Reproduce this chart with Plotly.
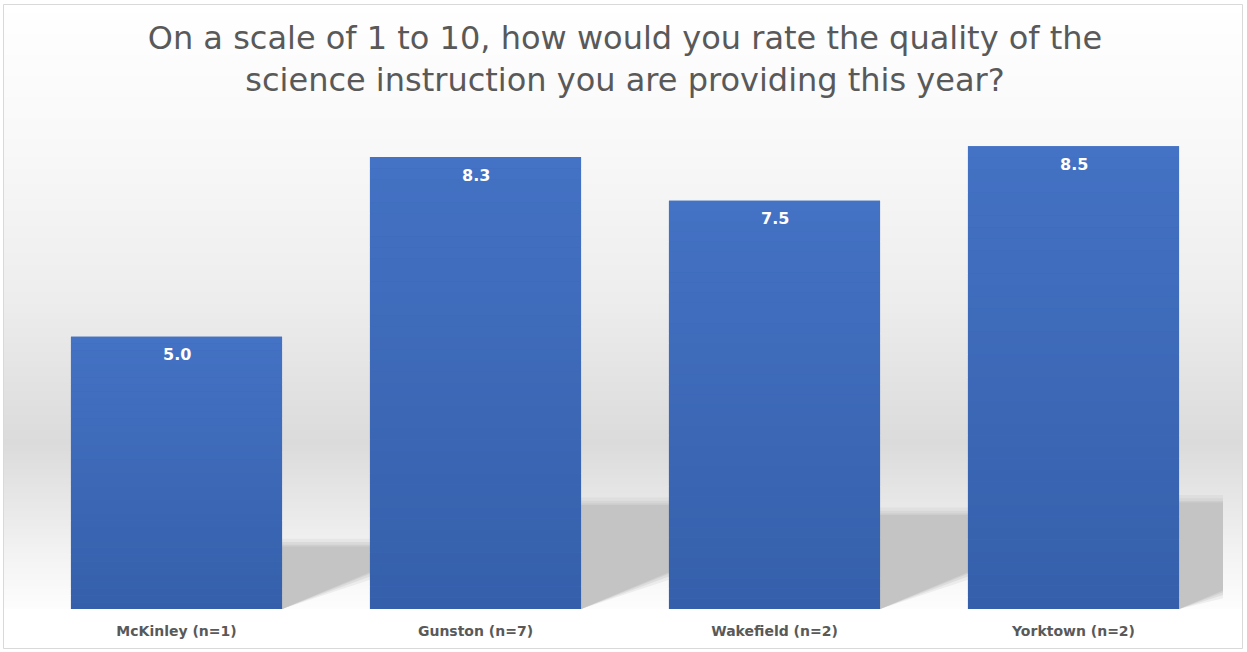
import plotly.graph_objects as go

categories = ["McKinley (n=1)", "Gunston (n=7)", "Wakefield (n=2)", "Yorktown (n=2)"]
values = [5.0, 8.3, 7.5, 8.5]
value_labels = ["5.0", "8.3", "7.5", "8.5"]
title_lines = ["On a scale of 1 to 10, how would you rate the quality of the",
               "science instruction you are providing this year?"]

W, H = 1247, 652
ML, MR, MT, MB = 27, 24, 119, 43
PW, PH = W - ML - MR, H - MT - MB
BARGAP = 0.294


def px_to_paper_x(px):
    return (px - ML) / PW


def px_to_paper_y(py):
    return (H - MB - py) / PH


def lerp_gray(stops, y):
    for (y0, g0), (y1, g1) in zip(stops, stops[1:]):
        if y0 <= y <= y1:
            t = (y - y0) / (y1 - y0) if y1 > y0 else 0
            g = round(g0 + (g1 - g0) * t)
            return f"rgb({g},{g},{g})"
    g = stops[-1][1]
    return f"rgb({g},{g},{g})"


def lerp_rgb(c0, c1, t):
    return "rgb(" + ",".join(str(round(a + (b - a) * t)) for a, b in zip(c0, c1)) + ")"


shapes = []
# background gradient (decorative)
stops = [(4, 255), (150, 248), (300, 237), (443, 219), (500, 231), (560, 244), (609, 253)]
step = 3
y = 4
while y < 609:
    y2 = min(y + step, 609)
    shapes.append(dict(type="rect", xref="paper", yref="paper",
                       x0=px_to_paper_x(4), x1=px_to_paper_x(1242),
                       y0=px_to_paper_y(y2), y1=px_to_paper_y(y),
                       fillcolor=lerp_gray(stops, (y + y2) / 2),
                       line=dict(width=0), layer="below"))
    y = y2

# bar shadows (decorative, derived from values)
half = (1 - BARGAP) / 2
n = len(values)
for i, v in enumerate(values):
    x0 = i + half
    x1 = min(i + 1 - half, n - 0.5)
    top = 0.23 * v
    slope = 2.3
    yd = slope * (x1 - x0)
    for dt, col in [(0.14, "rgba(200,200,200,0.25)"),
                    (0.08, "rgba(200,200,200,0.4)"),
                    (0.03, "rgba(198,198,198,0.6)")]:
        shapes.append(dict(type="path", xref="x", yref="y", layer="below",
                           path=f"M{x0},{0} L{x0},{top + dt} L{x1},{top + dt} L{x1},{max(yd - dt, 0)} Z",
                           fillcolor=col, line=dict(width=0)))
    shapes.append(dict(type="path", xref="x", yref="y", layer="below",
                       path=f"M{x0},{0} L{x0},{top} L{x1},{top} L{x1},{yd} Z",
                       fillcolor="rgb(196,196,196)", line=dict(width=0)))

# vertical gradient sheen over each bar (decorative, derived from values)
TOP_C, BOT_C = (68, 114, 196), (53, 95, 170)
NSTRIPE = 40
for i, v in enumerate(values):
    for k in range(NSTRIPE):
        ya = v * k / NSTRIPE
        yb = v * (k + 1) / NSTRIPE
        shapes.append(dict(type="rect", xref="x", yref="y", layer="above",
                           x0=i - half, x1=i + half, y0=ya, y1=yb,
                           fillcolor=lerp_rgb(BOT_C, TOP_C, (k + 0.5) / NSTRIPE),
                           line=dict(width=0)))

# chart border
shapes.append(dict(type="rect", xref="paper", yref="paper",
                   x0=px_to_paper_x(3.5), x1=px_to_paper_x(1242.5),
                   y0=px_to_paper_y(648.5), y1=px_to_paper_y(4.5),
                   line=dict(color="#d9d9d9", width=1), layer="above"))

annotations = [dict(x=c, y=v, xref="x", yref="y", text=t, showarrow=False,
                    yshift=-18, yanchor="middle",
                    font=dict(family="DejaVu Sans", size=16, color="white", weight="bold"))
               for c, v, t in zip(categories, values, value_labels)]

fig = go.Figure()
fig.add_trace(go.Bar(
    x=categories, y=values,
    marker=dict(color="#3e6bbd", line=dict(width=0)),
    hoverinfo="skip",
))

fig.update_layout(
    width=W, height=H,
    margin=dict(l=ML, r=MR, t=MT, b=MB),
    paper_bgcolor="white",
    plot_bgcolor="rgba(0,0,0,0)",
    bargap=BARGAP,
    showlegend=False,
    shapes=shapes,
    annotations=annotations,
    title=dict(text="<br>".join(title_lines),
               font=dict(family="DejaVu Sans", size=32, color="#595959"),
               x=0.5, xanchor="center", xref="paper",
               y=1 - 49 / H, yanchor="middle", yref="container"),
    xaxis=dict(showgrid=False, zeroline=False, showline=False, ticks="",
               tickfont=dict(family="DejaVu Sans", size=14, color="#595959", weight="bold"),
               ticklabelstandoff=12),
    yaxis=dict(range=[0, 9], visible=False, showgrid=False, zeroline=False),
)

fig.write_html("out.html")
